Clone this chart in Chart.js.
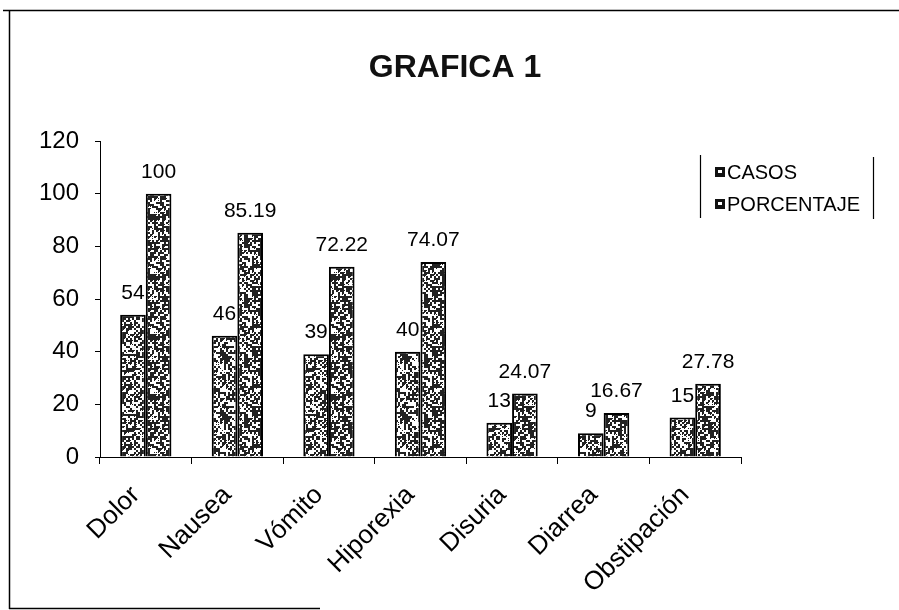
<!DOCTYPE html>
<html>
<head>
<meta charset="utf-8">
<title>GRAFICA 1</title>
<script src="https://cdn.jsdelivr.net/npm/chart.js@4.4.1/dist/chart.umd.min.js"></script>
<style>
    html, body { margin: 0; padding: 0; background: #fff; }
    canvas { display: block; }
</style>
</head>
<body>
<canvas id="grafica" width="899" height="610"></canvas>
<script>
const categorias = ['Dolor', 'Nausea', 'Vómito', 'Hiporexia', 'Disuria', 'Diarrea', 'Obstipación'];
const casos = [54, 46, 39, 40, 13, 9, 15];
const porcentaje = [100, 85.19, 72.22, 74.07, 24.07, 16.67, 27.78];
const ticksY = [0, 20, 40, 60, 80, 100, 120];
const series = ['CASOS', 'PORCENTAJE'];
const titulo = 'GRAFICA 1';

const FONT = "'Liberation Sans', Arial, sans-serif";

// Trama punteada para las barras (ruido determinista)
function hash(x, y, s) {
    let h = Math.imul(x, 374761393) + Math.imul(y, 668265263) + Math.imul(s, 982451653);
    h = Math.imul(h ^ (h >>> 13), 1274126177);
    return ((h ^ (h >>> 16)) >>> 0) / 4294967295;
}

function trama(densidad, semilla) {
    const c = document.createElement('canvas');
    c.width = 60;
    c.height = 60;
    const g = c.getContext('2d');
    g.fillStyle = '#fff';
    g.fillRect(0, 0, 60, 60);
    g.fillStyle = '#222';
    for (let y = 0; y < 60; y += 2) {
        for (let x = 0; x < 60; x += 2) {
            if (hash(x, y, semilla) < densidad) g.fillRect(x, y, 2, 2);
            else if (hash(x + 1, y + 7, semilla) < 0.3) g.fillRect(x, y, 1, 1);
        }
    }
    return g.createPattern(c, 'repeat');
}

const ctx = document.getElementById('grafica').getContext('2d');
const tramaCasos = trama(0.5, 3);
const tramaPorc = trama(0.55, 11);

// Etiquetas de valor sobre cada barra
const etiquetas = {
    id: 'etiquetas',
    afterDatasetsDraw(chart) {
        const c = chart.ctx;
        c.save();
        c.font = '21px ' + FONT;
        c.fillStyle = '#000';
        c.textAlign = 'center';
        c.textBaseline = 'alphabetic';
        chart.data.datasets.forEach((ds, i) => {
            chart.getDatasetMeta(i).data.forEach((bar, j) => {
                c.fillText(String(ds.data[j]), bar.x, bar.y - 16);
            });
        });
        c.restore();
    }
};

// Titulo, marco y leyenda con corchetes
const marco = {
    id: 'marco',
    afterDraw(chart) {
        const c = chart.ctx;
        c.save();
        c.fillStyle = '#111';
        c.font = 'bold 32px ' + FONT;
        c.textAlign = 'center';
        c.textBaseline = 'middle';
        c.fillText(titulo, 455, 68);

        c.strokeStyle = '#000';
        c.lineWidth = 1.5;
        c.beginPath();
        c.moveTo(3, 10.5); c.lineTo(899, 10.5);
        c.moveTo(9.5, 10); c.lineTo(9.5, 609);
        c.moveTo(9, 608.5); c.lineTo(320, 608.5);
        c.stroke();

        c.lineWidth = 1.2;
        c.beginPath();
        c.moveTo(700.5, 155); c.lineTo(700.5, 218);
        c.moveTo(873.5, 157); c.lineTo(873.5, 219);
        c.stroke();

        c.font = '20px ' + FONT;
        c.textBaseline = 'middle';
        c.textAlign = 'left';
        series.forEach((s, i) => {
            const y = 172 + i * 32;
            c.fillStyle = '#111';
            c.fillRect(715, y - 5, 10, 10);
            c.fillStyle = '#fff';
            c.fillRect(718, y - 2, 4, 3);
            c.fillStyle = '#000';
            c.fillText(s, 727, y + 1);
        });
        c.restore();
    }
};

const grafica = new Chart(ctx, {
    type: 'bar',
    data: {
        labels: categorias,
        datasets: [{
            label: series[0],
            data: casos,
            backgroundColor: tramaCasos,
            borderColor: '#000',
            borderWidth: 2,
            categoryPercentage: 0.56,
            barPercentage: 1.0
        }, {
            label: series[1],
            data: porcentaje,
            backgroundColor: tramaPorc,
            borderColor: '#000',
            borderWidth: 2,
            categoryPercentage: 0.56,
            barPercentage: 1.0
        }]
    },
    options: {
        responsive: false,
        animation: false,
        layout: { padding: { left: 0, right: 158, top: 141, bottom: 0 } },
        plugins: {
            legend: { display: false },
            tooltip: { enabled: false },
            title: { display: false }
        },
        scales: {
            x: {
                grid: { display: true, drawOnChartArea: false, offset: true, tickLength: 7, color: '#000' },
                border: { display: true, color: '#000', width: 1 },
                ticks: {
                    color: '#000',
                    font: { family: FONT, size: 26 },
                    minRotation: 45,
                    maxRotation: 45,
                    autoSkip: false,
                    padding: 16,
                    labelOffset: -10
                },
                afterFit(scale) { scale.height = 153; }
            },
            y: {
                min: ticksY[0],
                max: ticksY[ticksY.length - 1],
                grid: { display: true, drawOnChartArea: false, tickLength: 5, color: '#000' },
                border: { display: true, color: '#000', width: 1 },
                ticks: {
                    stepSize: 20,
                    color: '#000',
                    font: { family: FONT, size: 24 },
                    padding: 16
                },
                afterFit(scale) { scale.width = 100; }
            }
        }
    },
    plugins: [etiquetas, marco]
});
</script>
</body>
</html>
